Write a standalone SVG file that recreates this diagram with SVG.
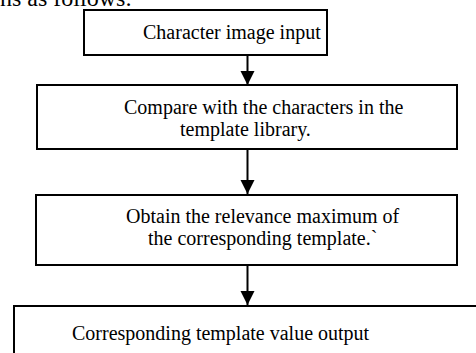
<svg xmlns="http://www.w3.org/2000/svg" width="476" height="353" viewBox="0 0 476 353">
<style>
.box{fill:#fff;stroke:#000;stroke-width:2}
.t{font-family:"Liberation Serif","Times New Roman",serif;font-size:20px;fill:#000}
.ln{stroke:#000;stroke-width:2;fill:none}
</style>
<defs>
<marker id="ah" markerUnits="userSpaceOnUse" markerWidth="16" markerHeight="16" refX="14" refY="7" orient="auto">
<path d="M0,0 L14,7 L0,14 Z" fill="#000"/>
</marker>
</defs>
<rect width="476" height="353" fill="#fff"/>
<text class="t" x="0" y="6" style="font-size:24px">ns as follows:</text>
<g id="n1">
<rect class="box" x="84" y="10" width="243" height="45"/>
<text class="t" x="143" y="39">Character image input</text>
</g>
<g id="n2">
<rect class="box" x="37" y="85" width="420" height="64"/>
<text class="t" x="124" y="114">Compare with the characters in the</text>
<text class="t" x="180" y="136">template library.</text>
</g>
<g id="n3">
<rect class="box" x="36" y="195" width="421" height="70"/>
<text class="t" x="126" y="223">Obtain the relevance maximum of</text>
<text class="t" x="148" y="245">the corresponding template.`</text>
</g>
<g id="n4">
<rect class="box" x="14" y="306" width="480" height="60"/>
<text class="t" x="72" y="340">Corresponding template value output</text>
</g>
<g id="connectors">
<line class="ln" x1="247.5" y1="55" x2="247.5" y2="85" marker-end="url(#ah)"/>
<line class="ln" x1="247.5" y1="149" x2="247.5" y2="194" marker-end="url(#ah)"/>
<line class="ln" x1="247.5" y1="265" x2="247.5" y2="305" marker-end="url(#ah)"/>
</g>
</svg>
